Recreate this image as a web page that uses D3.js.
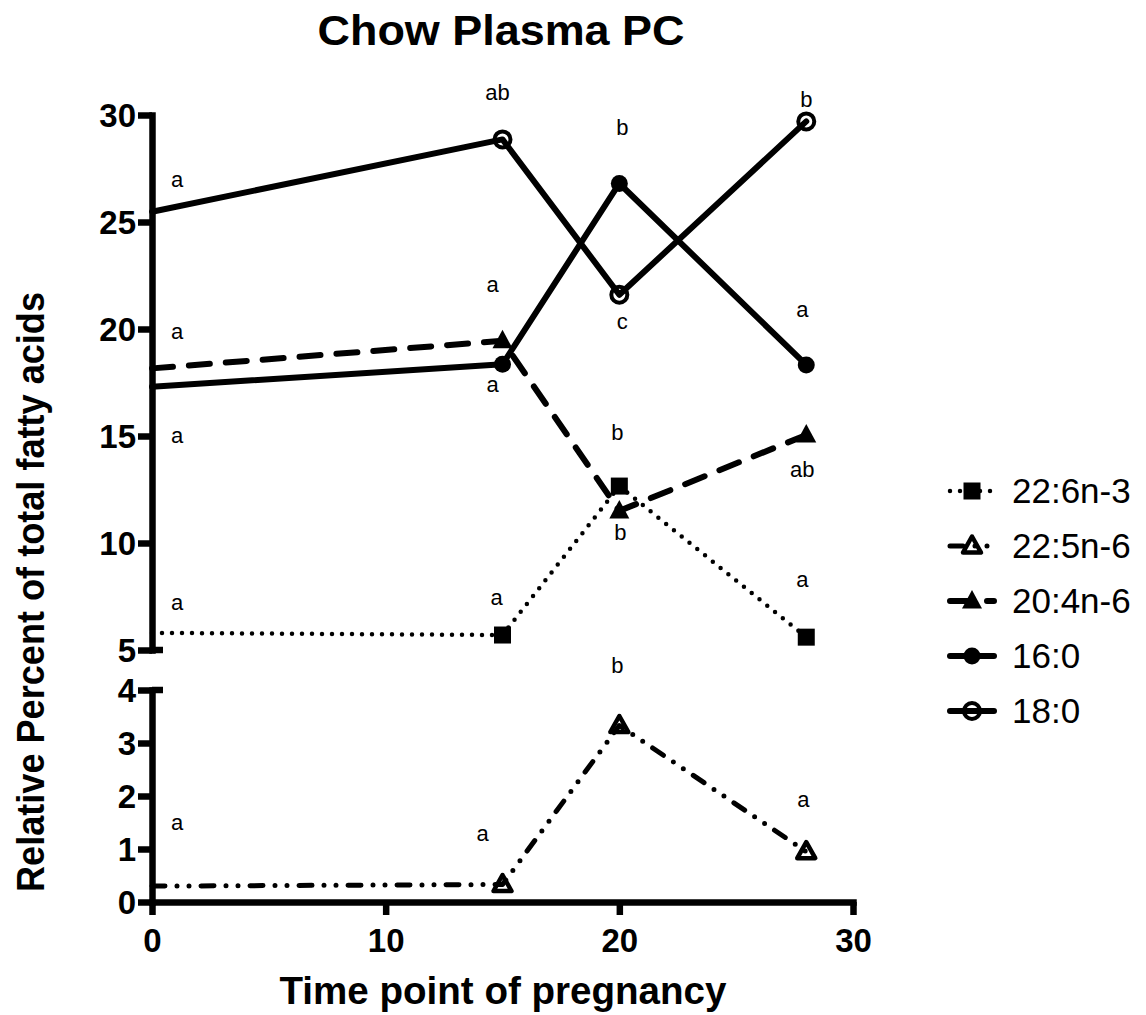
<!DOCTYPE html>
<html>
<head>
<meta charset="utf-8">
<script src="https://cdn.jsdelivr.net/npm/d3@7"></script>
<style>
  body { margin: 0; background: #fff; }
  svg { display: block; }
  text { font-family: "Liberation Sans", Arial, Helvetica, sans-serif; fill: #000; }
</style>
</head>
<body>
<svg id="chart" width="1146" height="1015"></svg>
<script>
// Sampling days of pregnancy
const timePoints = [0, 15, 20, 28];

// Relative percent of total fatty acids in plasma PC
const dha226 = [5.8, 5.7, 12.66, 5.6];          // 22:6n-3
const dpa225 = [0.30, 0.33, 3.33, 0.95];        // 22:5n-6
const ara204 = [18.16, 19.45, 11.5, 15.05];     // 20:4n-6
const palmitic160 = [17.3, 18.35, 26.8, 18.32];  // 16:0
const stearic180 = [25.48, 28.86, 21.6, 29.7];   // 18:0

// Significance letters per time point
const letters226 = ['a', 'a', 'b', 'a'];
const letters225 = ['a', 'a', 'b', 'a'];
const letters204 = ['a', 'a', 'b', 'ab'];
const letters160 = ['a', 'a', 'b', 'a'];
const letters180 = ['a', 'ab', 'c', 'b'];

const seriesNames = ['22:6n-3', '22:5n-6', '20:4n-6', '16:0', '18:0'];

// Axis ticks (the y axis is broken between 4 and 5)
const xTicks = [0, 10, 20, 30];
const yUpperTicks = [5, 10, 15, 20, 25, 30];
const yLowerTicks = [0, 1, 2, 3, 4];

const chartTitle = 'Chow Plasma PC';
const xTitle = 'Time  point of pregnancy';
const yTitle = 'Relative Percent of total fatty acids';

// ---------- layout ----------
const svg = d3.select('#chart');
const x = d3.scaleLinear().domain([0, 30]).range([152, 853]);
const yUpper = d3.scaleLinear().domain([5, 30]).range([650, 115]);
const yLower = d3.scaleLinear().domain([0, 4]).range([902, 690]);

const AXIS_W = 6.5;

// series rendering settings
const series = [
  { name: seriesNames[0], values: dha226, letters: letters226, y: yUpper, marker: 'square',
    stroke: { width: 4.5, dash: '0 10', cap: 'round' },
    offsets: [[25, -30], [-6, -37], [-2, -53], [-4, -57]] },
  { name: seriesNames[1], values: dpa225, letters: letters225, y: yLower, marker: 'triangleOpen',
    stroke: { width: 5, dash: '13 12 0 12 0 12', cap: 'round' },
    offsets: [[25, -63], [-20, -51], [-2, -60], [-3, -52]] },
  { name: seriesNames[2], values: ara204, letters: letters204, y: yUpper, marker: 'triangle',
    stroke: { width: 6, dash: '21 16', cap: 'round' },
    offsets: [[25, -36], [-10, -56], [1, 22], [-4, 35]] },
  { name: seriesNames[3], values: palmitic160, letters: letters160, y: yUpper, marker: 'circle',
    stroke: { width: 6, dash: null, cap: 'round' },
    offsets: [[25, 49], [-10, 21], [3, -55], [-4, -55]] },
  { name: seriesNames[4], values: stearic180, letters: letters180, y: yUpper, marker: 'circleOpen',
    stroke: { width: 6, dash: null, cap: 'round' },
    offsets: [[25, -32], [-5, -46], [3, 27], [0, -21]] }
];

function drawMarker(g, type, cx, cy) {
  const m = g.append('g').attr('transform', `translate(${cx},${cy})`);
  if (type === 'square') {
    m.append('rect').attr('x', -8.5).attr('y', -8.5).attr('width', 17).attr('height', 17).attr('fill', '#000');
  } else if (type === 'circle') {
    m.append('circle').attr('r', 8.5).attr('fill', '#000');
  } else if (type === 'circleOpen') {
    m.append('circle').attr('r', 8).attr('fill', 'none').attr('stroke', '#000').attr('stroke-width', 4);
  } else if (type === 'triangle') {
    m.append('path').attr('d', 'M0,-11L10,7.5L-10,7.5Z').attr('fill', '#000');
  } else if (type === 'triangleOpen') {
    m.append('path').attr('d', 'M0,-9.5L9,6.5L-9,6.5Z').attr('fill', 'none')
      .attr('stroke', '#000').attr('stroke-width', 4.5).attr('stroke-linejoin', 'round');
  }
}

// ---------- axes ----------
const axes = svg.append('g');

function styleAxis(g) {
  g.select('.domain').attr('stroke', '#000').attr('stroke-width', AXIS_W).attr('stroke-linecap', 'square');
  g.selectAll('.tick line').attr('stroke', '#000').attr('stroke-width', AXIS_W);
  g.selectAll('.tick text').attr('font-size', 33).attr('font-weight', 'bold')
    .style('font-family', '"Liberation Sans", Arial, sans-serif');
}

const yUpperAxis = axes.append('g').attr('transform', `translate(${x(0)},0)`)
  .call(d3.axisLeft(yUpper).tickValues(yUpperTicks).tickFormat(d3.format('d'))
    .tickSize(14).tickSizeOuter(0).tickPadding(2));
styleAxis(yUpperAxis);
yUpperAxis.selectAll('.tick text').attr('dy', '0.36em');

const yLowerAxis = axes.append('g').attr('transform', `translate(${x(0)},0)`)
  .call(d3.axisLeft(yLower).tickValues(yLowerTicks).tickFormat(d3.format('d'))
    .tickSize(14).tickSizeOuter(0).tickPadding(2));
styleAxis(yLowerAxis);
yLowerAxis.selectAll('.tick text').attr('dy', '0.36em');

// short stubs marking both ends of the axis break
[yUpper(5), yLower(4)].forEach(yy => {
  axes.append('line').attr('x1', x(0)).attr('x2', x(0) + 11).attr('y1', yy).attr('y2', yy)
    .attr('stroke', '#000').attr('stroke-width', AXIS_W);
});

const xAxis = axes.append('g').attr('transform', `translate(0,${yLower(0)})`)
  .call(d3.axisBottom(x).tickValues(xTicks).tickFormat(d3.format('d'))
    .tickSize(13).tickSizeOuter(0).tickPadding(4));
styleAxis(xAxis);
xAxis.selectAll('.tick text').attr('y', 50).attr('dy', 0);

// ---------- series ----------
const plot = svg.append('g');
series.forEach(s => {
  const pts = timePoints.map((t, i) => ({ t, v: s.values[i], i }));
  const line = d3.line().x(d => x(d.t)).y(d => s.y(d.v));
  const path = plot.append('path').datum(pts).attr('d', line)
    .attr('fill', 'none').attr('stroke', '#000')
    .attr('stroke-width', s.stroke.width)
    .attr('stroke-linecap', s.stroke.cap)
    .attr('stroke-linejoin', 'round');
  if (s.stroke.dash) path.attr('stroke-dasharray', s.stroke.dash);

  // markers at day 0 sit under the y axis and are not shown
  pts.filter(d => d.t > 0).forEach(d => drawMarker(plot, s.marker, x(d.t), s.y(d.v)));

  // significance letters
  pts.forEach(d => {
    const [dx, dy] = s.offsets[d.i];
    plot.append('text')
      .attr('x', x(d.t) + dx).attr('y', s.y(d.v) + dy + 7)
      .attr('text-anchor', 'middle').attr('font-size', 22)
      .text(s.letters[d.i]);
  });
});

// ---------- legend ----------
const legend = svg.append('g');
series.forEach((s, i) => {
  const cy = 491 + i * 55;
  const l = legend.append('line').attr('x1', 950).attr('x2', 994).attr('y1', cy).attr('y2', cy)
    .attr('stroke', '#000').attr('stroke-width', s.stroke.width).attr('stroke-linecap', s.stroke.cap);
  if (s.stroke.dash) l.attr('stroke-dasharray', s.stroke.dash);
  drawMarker(legend, s.marker, 972, cy);
  legend.append('text').attr('x', 1012).attr('y', cy + 12).attr('font-size', 35).text(s.name);
});

// ---------- titles ----------
svg.append('text').attr('x', 501).attr('y', 45).attr('text-anchor', 'middle')
  .attr('font-size', 43).attr('font-weight', 'bold')
  .attr('textLength', 367).attr('lengthAdjust', 'spacingAndGlyphs')
  .text(chartTitle);

svg.append('text').attr('x', 503).attr('y', 1004).attr('text-anchor', 'middle')
  .attr('font-size', 38).attr('font-weight', 'bold')
  .attr('textLength', 447).attr('lengthAdjust', 'spacingAndGlyphs')
  .text(xTitle);

svg.append('text').attr('transform', 'translate(44,592) rotate(-90)').attr('text-anchor', 'middle')
  .attr('font-size', 38).attr('font-weight', 'bold')
  .attr('textLength', 600).attr('lengthAdjust', 'spacingAndGlyphs')
  .text(yTitle);
</script>
</body>
</html>
